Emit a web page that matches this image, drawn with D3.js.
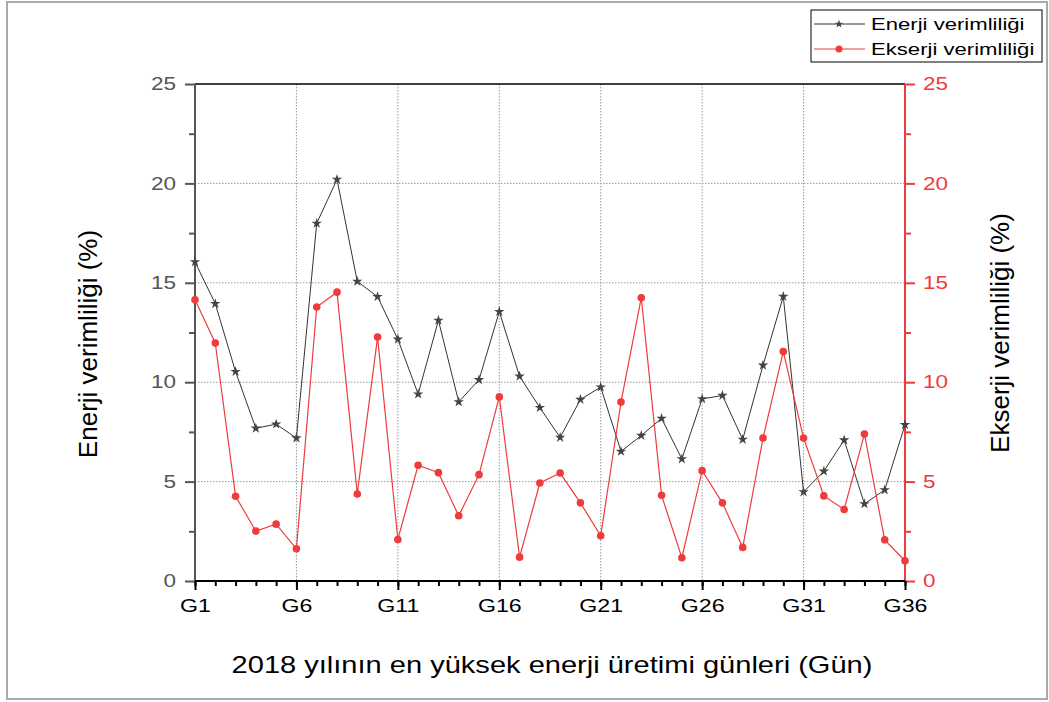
<!DOCTYPE html>
<html>
<head>
<meta charset="utf-8">
<script src="https://cdn.jsdelivr.net/npm/d3@7"></script>
<style>
  body { margin: 0; background: #fff; }
  svg { font-family: "Liberation Sans", Arial, sans-serif; }
</style>
</head>
<body>
<svg class="chart" width="1049" height="702"></svg>
<script>
// Days G1..G36
const days = d3.range(1, 37).map(d => 'G' + d);

// Enerji verimliliği (%)
const energy = [16.05, 13.95, 10.53, 7.68, 7.89, 7.19, 17.99, 20.2, 15.07, 14.3,
    12.16, 9.4, 13.11, 9.01, 10.12, 13.55, 10.3, 8.72, 7.22, 9.13,
    9.75, 6.52, 7.32, 8.18, 6.14, 9.16, 9.33, 7.12, 10.85, 14.31,
    4.48, 5.52, 7.09, 3.88, 4.58, 7.86];

// Ekserji verimliliği (%)
const exergy = [14.15, 11.97, 4.26, 2.51, 2.86, 1.62, 13.78, 14.53, 4.38, 12.27,
    2.09, 5.82, 5.45, 3.28, 5.35, 9.26, 1.2, 4.93, 5.43, 3.93,
    2.27, 9.0, 14.25, 4.31, 1.17, 5.55, 3.93, 1.69, 7.19, 11.54,
    7.19, 4.28, 3.6, 7.39, 2.07, 1.02];

const yTicks = [0, 5, 10, 15, 20, 25];
const xTickLabels = ['G1', 'G6', 'G11', 'G16', 'G21', 'G26', 'G31', 'G36'];

const red = '#ef3b3b';
const dark = '#444';

// the original picture is a bit wider than tall, so horizontal text gets stretched
function stretch(sel, k) {
    sel.each(function() {
        var w = this.getComputedTextLength();
        d3.select(this)
            .attr('textLength', w * k)
            .attr('lengthAdjust', 'spacingAndGlyphs');
    });
}

var svg = d3.select('.chart');

// outer frame
svg.append('rect')
    .attr('x', 7).attr('y', 2)
    .attr('width', 1040).attr('height', 697)
    .attr('fill', 'none')
    .attr('stroke', '#aaa')
    .attr('stroke-width', 2);

var margin = { top: 84, left: 195, right: 144, bottom: 120 };
var width = 1049 - margin.left - margin.right;
var height = 702 - margin.top - margin.bottom - 1;

var x = d3.scalePoint().domain(days).range([0, width]);
var y = d3.scaleLinear().domain([0, 25]).range([height, 0]);
var y2 = d3.scaleLinear().domain([0, 25]).range([height, 0]);

var g = svg.append('g')
    .attr('transform', 'translate(' + margin.left + ',' + margin.top + ')');

// grid
g.append('g').selectAll('line')
    .data(xTickLabels.slice(1, -1))
    .enter().append('line')
    .attr('x1', d => x(d)).attr('x2', d => x(d))
    .attr('y1', 0).attr('y2', height)
    .attr('stroke', '#999').attr('stroke-dasharray', '1.5,1.5');

g.append('g').selectAll('line')
    .data(yTicks.slice(1, -1))
    .enter().append('line')
    .attr('x1', 0).attr('x2', width)
    .attr('y1', d => y(d)).attr('y2', d => y(d))
    .attr('stroke', '#999').attr('stroke-dasharray', '1.5,1.5');

// top frame line
g.append('line')
    .attr('x1', 0).attr('x2', width)
    .attr('y1', 0).attr('y2', 0)
    .attr('stroke', '#000').attr('stroke-width', 1.5);

// left axis
var yAxis = g.append('g')
    .call(d3.axisLeft(y).tickValues(yTicks).tickSize(10).tickPadding(9));
yAxis.selectAll('text').attr('fill', '#555').style('font-size', '18px').call(stretch, 1.25);
yAxis.selectAll('line,path').attr('stroke', '#555').attr('stroke-width', 2);
yAxis.select('.domain').attr('d', 'M0,' + height + 'V0');
g.append('g')
    .call(d3.axisLeft(y).tickValues(d3.range(2.5, 25, 5)).tickSize(6).tickFormat(''))
    .call(s => s.select('.domain').remove())
    .selectAll('line').attr('stroke', '#555').attr('stroke-width', 2);

// right axis
var yAxis2 = g.append('g')
    .attr('transform', 'translate(' + width + ',0)')
    .call(d3.axisRight(y2).tickValues(yTicks).tickSize(10).tickPadding(8));
yAxis2.selectAll('text').attr('fill', red).style('font-size', '18px').call(stretch, 1.25);
yAxis2.selectAll('line,path').attr('stroke', red).attr('stroke-width', 2);
yAxis2.select('.domain').attr('d', 'M0,' + height + 'V0');
g.append('g')
    .attr('transform', 'translate(' + width + ',0)')
    .call(d3.axisRight(y2).tickValues(d3.range(2.5, 25, 5)).tickSize(6).tickFormat(''))
    .call(s => s.select('.domain').remove())
    .selectAll('line').attr('stroke', red).attr('stroke-width', 2);

// bottom axis
g.append('g')
    .attr('transform', 'translate(0,' + height + ')')
    .call(d3.axisBottom(x).tickValues(days).tickSize(5).tickFormat(''))
    .call(s => s.select('.domain').remove())
    .selectAll('line').attr('stroke', '#000').attr('stroke-width', 2);
var xAxis = g.append('g')
    .attr('transform', 'translate(0,' + height + ')')
    .call(d3.axisBottom(x).tickValues(xTickLabels).tickSize(9).tickPadding(9));
xAxis.selectAll('text').attr('fill', '#000').style('font-size', '19px').call(stretch, 1.22);
xAxis.selectAll('line,path').attr('stroke', '#000').attr('stroke-width', 2);
xAxis.select('.domain').attr('d', 'M0,0H' + width);

// lines
var lineE = d3.line().x((d, i) => x(days[i])).y(d => y(d));
var lineX = d3.line().x((d, i) => x(days[i])).y(d => y2(d));

g.append('path')
    .datum(energy)
    .attr('d', lineE)
    .attr('fill', 'none')
    .attr('stroke', '#333')
    .attr('stroke-width', 1);

g.append('path')
    .datum(exergy)
    .attr('d', lineX)
    .attr('fill', 'none')
    .attr('stroke', red)
    .attr('stroke-width', 1.2);

var star = d3.symbol().type(d3.symbolStar).size(34);

g.selectAll('.star')
    .data(energy)
    .enter().append('path')
    .attr('class', 'star')
    .attr('d', star)
    .attr('transform', (d, i) => 'translate(' + x(days[i]) + ',' + y(d) + ')')
    .attr('fill', dark);

g.selectAll('.dot')
    .data(exergy)
    .enter().append('circle')
    .attr('class', 'dot')
    .attr('cx', (d, i) => x(days[i]))
    .attr('cy', d => y2(d))
    .attr('r', 3.8)
    .attr('fill', red);

// axis titles
svg.append('text')
    .attr('transform', 'translate(97,344) rotate(-90)')
    .attr('text-anchor', 'middle')
    .style('font-size', '26px')
    .text('Enerji verimliliği (%)');

svg.append('text')
    .attr('transform', 'translate(1009,333) rotate(-90)')
    .attr('text-anchor', 'middle')
    .style('font-size', '26px')
    .text('Ekserji verimliliği (%)');

svg.append('text')
    .attr('x', 552).attr('y', 673)
    .attr('text-anchor', 'middle')
    .style('font-size', '24px')
    .text('2018 yılının en yüksek enerji üretimi günleri (Gün)')
    .call(stretch, 1.21);

// legend
var legend = svg.append('g');
legend.append('rect')
    .attr('x', 811).attr('y', 10)
    .attr('width', 231).attr('height', 52)
    .attr('fill', '#fff').attr('stroke', '#000').attr('stroke-width', 1);

var items = [
    { name: 'Enerji verimliliği', color: '#333', mark: 'star' },
    { name: 'Ekserji verimliliği', color: red, mark: 'dot' }
];
items.forEach(function(it, i) {
    var cy = 24 + i * 25;
    legend.append('line')
        .attr('x1', 814).attr('x2', 865)
        .attr('y1', cy).attr('y2', cy)
        .attr('stroke', it.color).attr('stroke-width', 1);
    if (it.mark === 'star') {
        legend.append('path')
            .attr('d', d3.symbol().type(d3.symbolStar).size(22)())
            .attr('transform', 'translate(839,' + cy + ')')
            .attr('fill', dark);
    } else {
        legend.append('circle')
            .attr('cx', 839).attr('cy', cy).attr('r', 3.5)
            .attr('fill', red);
    }
    legend.append('text')
        .attr('x', 871).attr('y', cy + 6)
        .style('font-size', '17px')
        .text(it.name)
        .call(stretch, 1.3);
});
</script>
</body>
</html>
